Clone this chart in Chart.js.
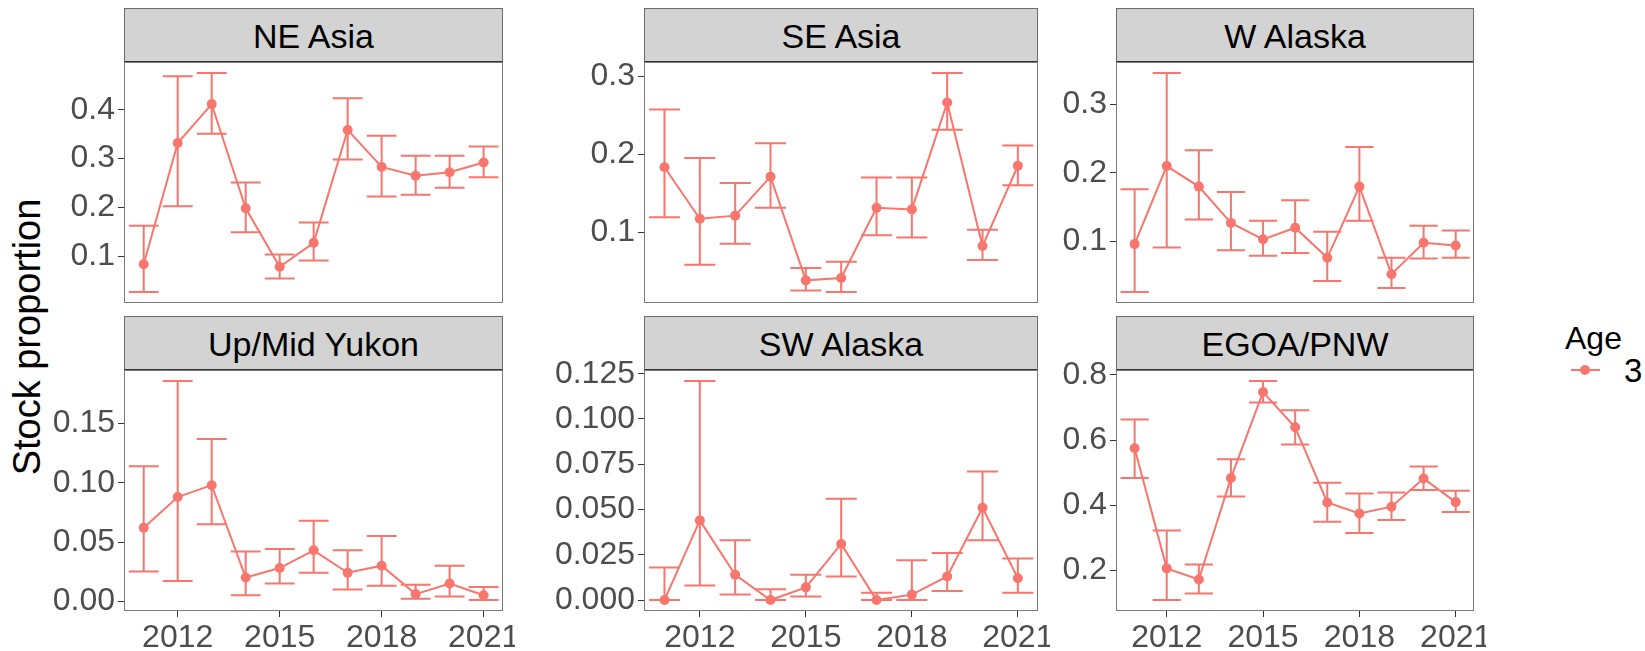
<!DOCTYPE html>
<html>
<head>
<meta charset="utf-8">
<script src="https://cdn.jsdelivr.net/npm/chart.js@4.4.1/dist/chart.umd.min.js"></script>
<style>
  body { margin: 0; background: #fff; width: 1645px; height: 651px; position: relative; overflow: hidden;
         font-family: "Liberation Sans", Arial, Helvetica, sans-serif; }
  canvas { position: absolute; }
  .strip { position: absolute; box-sizing: border-box; background: #d3d3d3;
           border: 1px solid #6b6b6b; border-bottom: 2px solid #333;
           display: flex; align-items: center; justify-content: center;
           font-size: 34px; color: #000; padding-top: 2px; }
  #ytitle { position: absolute; left: 27px; top: 337px; line-height: 1; white-space: nowrap;
            font-size: 38px; color: #000; transform: translate(-50%, -50%) rotate(-90deg); }
  #legTitle { position: absolute; left: 1565px; top: 322px; font-size: 32px; line-height: 1; color: #000; }
  #legLabel { position: absolute; left: 1624px; top: 354px; font-size: 33px; line-height: 1; color: #000; }
  #legLine { position: absolute; left: 1571px; top: 369px; width: 29px; height: 2px; background: #F8766D; }
  #legDot { position: absolute; left: 1580px; top: 365px; width: 10px; height: 10px; border-radius: 50%; background: #F8766D; }
</style>
</head>
<body>
<div id="ytitle">Stock proportion</div>
<div id="legTitle">Age</div>
<div id="legLine"></div>
<div id="legDot"></div>
<div id="legLabel">3</div>
<script>
const years = [2011, 2012, 2013, 2014, 2015, 2016, 2017, 2018, 2019, 2020, 2021];
const xTickLabels = ['2012', '2015', '2018', '2021'];

// NE Asia
const neAsiaMean  = [0.083, 0.332, 0.412, 0.198, 0.078, 0.127, 0.359, 0.283, 0.265, 0.272, 0.292];
const neAsiaLower = [0.026, 0.202, 0.351, 0.149, 0.054, 0.091, 0.298, 0.222, 0.226, 0.240, 0.262];
const neAsiaUpper = [0.162, 0.469, 0.476, 0.251, 0.103, 0.169, 0.424, 0.347, 0.306, 0.306, 0.325];
const neAsiaTicks = ['0.1', '0.2', '0.3', '0.4'];

// SE Asia
const seAsiaMean  = [0.183, 0.117, 0.121, 0.171, 0.038, 0.041, 0.131, 0.129, 0.266, 0.082, 0.185];
const seAsiaLower = [0.119, 0.058, 0.085, 0.131, 0.025, 0.023, 0.096, 0.093, 0.231, 0.064, 0.160];
const seAsiaUpper = [0.257, 0.195, 0.163, 0.214, 0.054, 0.062, 0.170, 0.170, 0.304, 0.103, 0.211];
const seAsiaTicks = ['0.1', '0.2', '0.3'];

// W Alaska
const wAlaskaMean  = [0.096, 0.210, 0.180, 0.127, 0.103, 0.120, 0.076, 0.180, 0.052, 0.098, 0.094];
const wAlaskaLower = [0.026, 0.091, 0.132, 0.087, 0.079, 0.083, 0.042, 0.130, 0.032, 0.075, 0.076];
const wAlaskaUpper = [0.176, 0.346, 0.233, 0.172, 0.130, 0.160, 0.114, 0.238, 0.076, 0.123, 0.116];
const wAlaskaTicks = ['0.1', '0.2', '0.3'];

// Up/Mid Yukon
const yukonMean  = [0.062, 0.088, 0.098, 0.020, 0.028, 0.043, 0.024, 0.030, 0.006, 0.015, 0.005];
const yukonLower = [0.025, 0.017, 0.065, 0.005, 0.015, 0.024, 0.010, 0.013, 0.002, 0.004, 0.001];
const yukonUpper = [0.114, 0.186, 0.137, 0.042, 0.044, 0.068, 0.043, 0.055, 0.014, 0.030, 0.012];
const yukonTicks = ['0.00', '0.05', '0.10', '0.15'];

// SW Alaska
const swAlaskaMean  = [0.000, 0.044, 0.014, 0.000, 0.007, 0.031, 0.000, 0.003, 0.013, 0.051, 0.012];
const swAlaskaLower = [0.000, 0.008, 0.003, 0.000, 0.002, 0.013, 0.000, 0.000, 0.005, 0.033, 0.004];
const swAlaskaUpper = [0.018, 0.121, 0.033, 0.006, 0.014, 0.056, 0.004, 0.022, 0.026, 0.071, 0.023];
const swAlaskaTicks = ['0.000', '0.025', '0.050', '0.075', '0.100', '0.125'];

// EGOA/PNW
const egoaMean  = [0.575, 0.207, 0.173, 0.484, 0.747, 0.639, 0.409, 0.375, 0.396, 0.482, 0.410];
const egoaLower = [0.484, 0.110, 0.130, 0.427, 0.715, 0.586, 0.350, 0.315, 0.355, 0.447, 0.380];
const egoaUpper = [0.663, 0.323, 0.219, 0.541, 0.781, 0.691, 0.469, 0.436, 0.439, 0.519, 0.445];
const egoaTicks = ['0.2', '0.4', '0.6', '0.8'];

const RED = '#F8766D';
const FONT = '"Liberation Sans", Arial, Helvetica, sans-serif';

const panels = [
  { title: 'NE Asia', mean: neAsiaMean, lower: neAsiaLower, upper: neAsiaUpper, ticks: neAsiaTicks, left: 124, right: 503, top: 62, bottom: 303, xAxis: false },
  { title: 'SE Asia', mean: seAsiaMean, lower: seAsiaLower, upper: seAsiaUpper, ticks: seAsiaTicks, left: 644, right: 1038, top: 62, bottom: 303, xAxis: false },
  { title: 'W Alaska', mean: wAlaskaMean, lower: wAlaskaLower, upper: wAlaskaUpper, ticks: wAlaskaTicks, left: 1116, right: 1474, top: 62, bottom: 303, xAxis: false },
  { title: 'Up/Mid Yukon', mean: yukonMean, lower: yukonLower, upper: yukonUpper, ticks: yukonTicks, left: 124, right: 503, top: 370, bottom: 611, xAxis: true },
  { title: 'SW Alaska', mean: swAlaskaMean, lower: swAlaskaLower, upper: swAlaskaUpper, ticks: swAlaskaTicks, left: 644, right: 1038, top: 370, bottom: 611, xAxis: true },
  { title: 'EGOA/PNW', mean: egoaMean, lower: egoaLower, upper: egoaUpper, ticks: egoaTicks, left: 1116, right: 1474, top: 370, bottom: 611, xAxis: true }
];

// error bars + panel frame, drawn with the chart's own scales
function panelDecor(p) {
  return {
    id: 'panelDecor',
    beforeDatasetsDraw(chart) {
      const { ctx, scales: { x, y } } = chart;
      ctx.save();
      ctx.strokeStyle = RED;
      ctx.lineWidth = 2;
      years.forEach((yr, i) => {
        const cx = x.getPixelForValue(yr);
        const x0 = x.getPixelForValue(yr - 0.44);
        const x1 = x.getPixelForValue(yr + 0.44);
        const yl = y.getPixelForValue(p.lower[i]);
        const yu = y.getPixelForValue(p.upper[i]);
        ctx.beginPath();
        ctx.moveTo(cx, yl); ctx.lineTo(cx, yu);
        ctx.moveTo(x0, yl); ctx.lineTo(x1, yl);
        ctx.moveTo(x0, yu); ctx.lineTo(x1, yu);
        ctx.stroke();
      });
      ctx.restore();
    },
    afterDraw(chart) {
      const { ctx, chartArea: a } = chart;
      ctx.save();
      ctx.strokeStyle = '#7a7a7a';
      ctx.lineWidth = 1;
      ctx.strokeRect(a.left + 0.5, a.top + 0.5, a.right - a.left - 1, a.bottom - a.top - 1);
      ctx.restore();
    }
  };
}

function noPad(s) {
  s.paddingTop = 0; s.paddingBottom = 0; s.paddingLeft = 0; s.paddingRight = 0;
}

panels.forEach(p => {
  const padL = 110, padR = 12, padT = 20;
  const axisH = p.xAxis ? 45 : 0;
  const padB = p.xAxis ? 0 : 6;
  const w = (p.right - p.left) + padL + padR;
  const h = (p.bottom - p.top) + padT + axisH + padB;

  const strip = document.createElement('div');
  strip.className = 'strip';
  strip.textContent = p.title;
  strip.style.left = p.left + 'px';
  strip.style.top = (p.top - 54) + 'px';
  strip.style.width = (p.right - p.left) + 'px';
  strip.style.height = '55px';
  document.body.appendChild(strip);

  const cv = document.createElement('canvas');
  cv.width = w; cv.height = h;
  cv.style.left = (p.left - padL) + 'px';
  cv.style.top = (p.top - padT) + 'px';
  cv.style.width = w + 'px';
  cv.style.height = h + 'px';
  document.body.appendChild(cv);

  const lo = Math.min(...p.lower), hi = Math.max(...p.upper);
  const ex = (hi - lo) * 0.05;

  new Chart(cv, {
    type: 'line',
    data: {
      datasets: [{
        data: years.map((yr, i) => ({ x: yr, y: p.mean[i] })),
        borderColor: RED,
        backgroundColor: RED,
        borderWidth: 2,
        pointRadius: 5,
        pointBorderWidth: 0,
        pointBackgroundColor: RED,
        tension: 0,
        fill: false
      }]
    },
    options: {
      responsive: false,
      animation: false,
      devicePixelRatio: 1,
      layout: { autoPadding: false, padding: { left: 0, right: padR, top: padT, bottom: padB } },
      plugins: { legend: { display: false }, tooltip: { enabled: false } },
      scales: {
        x: {
          type: 'linear',
          min: 2010.42,
          max: 2021.57,
          display: p.xAxis,
          afterBuildTicks: s => { s.ticks = xTickLabels.map(v => ({ value: +v })); },
          afterFit: s => { s.height = axisH; noPad(s); },
          grid: { drawOnChartArea: false, drawTicks: true, tickLength: 6, tickColor: '#333', lineWidth: 1 },
          border: { display: false },
          ticks: { font: { size: 32, family: FONT }, color: '#4d4d4d', padding: 2, maxRotation: 0, autoSkip: false,
                   callback: (v, i) => xTickLabels[i] }
        },
        y: {
          min: lo - ex,
          max: hi + ex,
          afterBuildTicks: s => { s.ticks = p.ticks.map(t => ({ value: parseFloat(t) })); },
          afterFit: s => { s.width = padL; noPad(s); },
          grid: { drawOnChartArea: false, drawTicks: true, tickLength: 6, tickColor: '#333', lineWidth: 1 },
          border: { display: false },
          ticks: { font: { size: 32, family: FONT }, color: '#4d4d4d', padding: 3, autoSkip: false,
                   callback: (v, i) => p.ticks[i] }
        }
      }
    },
    plugins: [panelDecor(p)]
  });
});
</script>
</body>
</html>
